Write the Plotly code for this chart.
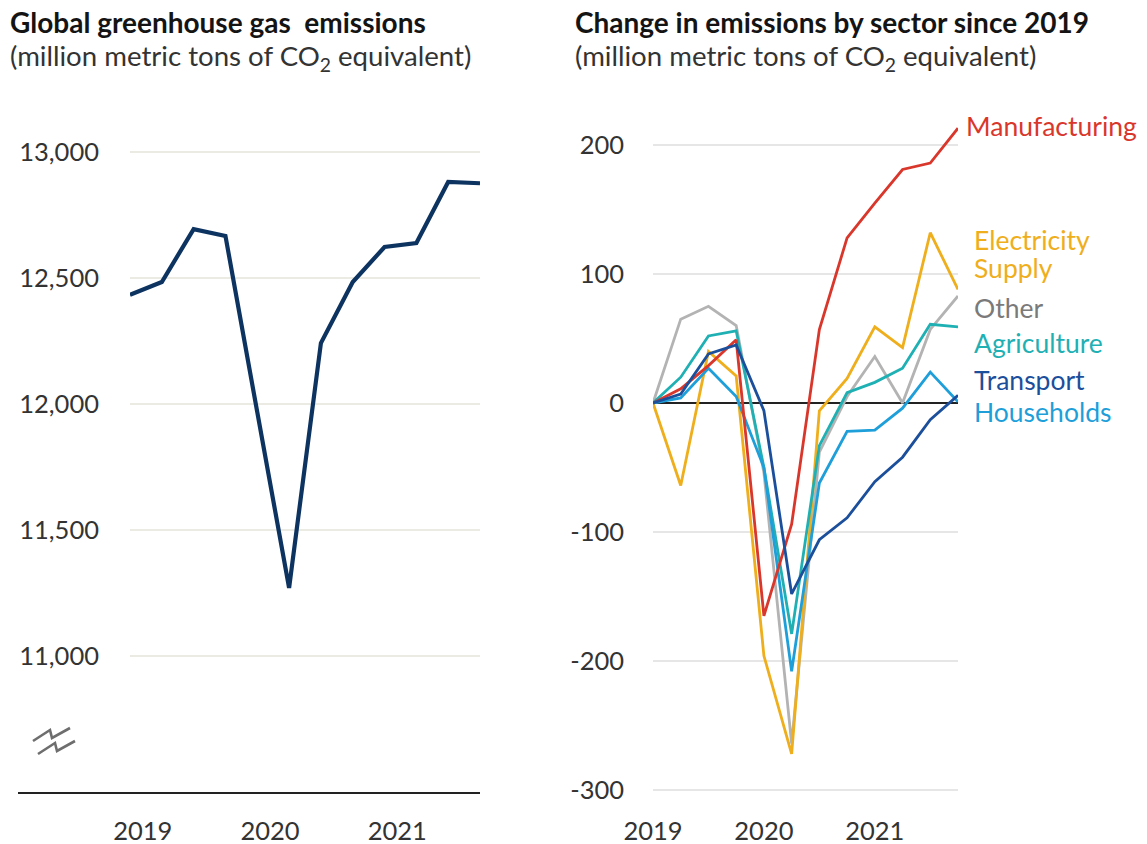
import plotly.graph_objects as go

W, H = 1147, 844

quarters = ["2019 Q1", "2019 Q2", "2019 Q3", "2019 Q4",
            "2020 Q1", "2020 Q2", "2020 Q3", "2020 Q4",
            "2021 Q1", "2021 Q2", "2021 Q3", "2021 Q4"]

global_emissions = [12433, 12484, 12694, 12667, 11968, 11270,
                    12242, 12484, 12623, 12639, 12881, 12876]

sector_names = ["Manufacturing", "Electricity Supply", "Other",
                "Agriculture", "Transport", "Households"]
manufacturing = [0, 11, 29, 49, -165, -94, 57, 128, 155, 181, 186, 213]
electricity = [0, -64, 40, 21, -196, -272, -6, 19, 59, 43, 132, 88]
other = [0, 65, 75, 60, -54, -264, -38, 5, 36, 0, 57, 83]
agriculture = [0, 20, 52, 56, -50, -179, -33, 8, 16, 27, 61, 59]
transport = [0, 7, 38, 45, -6, -148, -106, -89, -61, -42, -13, 6]
households = [0, 4, 27, 5, -50, -208, -62, -22, -21, -4, 24, 1]

left_ticks = [11000, 11500, 12000, 12500, 13000]
left_tick_text = ["11,000", "11,500", "12,000", "12,500", "13,000"]
right_ticks = [-300, -200, -100, 0, 100, 200]
year_labels = ["2019", "2020", "2021"]

colors = {
    "Manufacturing": "#D9372B",
    "Electricity Supply": "#EFAE1B",
    "Other": "#B3B3B3",
    "Agriculture": "#1FB0B4",
    "Transport": "#1C4F9B",
    "Households": "#1E9FDA",
}
label_colors = dict(colors)
label_colors["Other"] = "#7A7A7A"

FONT = "Lato"
TICK_SIZE = 25.5


def px_x(p):
    return p / W


def px_y(p):
    return 1 - p / H


xi = list(range(len(quarters)))

fig = go.Figure()

fig.add_trace(go.Scatter(
    x=xi, y=global_emissions, mode="lines",
    line=dict(color="#0D3361", width=4.2), xaxis="x", yaxis="y",
    hovertext=quarters, showlegend=False))

series = [manufacturing, electricity, other, agriculture, transport, households]
draw_order = [2, 1, 3, 5, 0, 4]
for k in draw_order:
    name = sector_names[k]
    fig.add_trace(go.Scatter(
        x=xi, y=series[k], mode="lines", name=name,
        line=dict(color=colors[name], width=2.8), xaxis="x2", yaxis="y2",
        hovertext=quarters, showlegend=False))

# left plot area: x 130..480, y 110..793 (pixels)
l_top, l_bot = 110, 793
l_scale = 126 / 500.0
l_min = 11000 - (l_bot - 656) / l_scale
l_max = 13000 + (152 - l_top) / l_scale

# right plot area: x 653..958, y 110..795
r_top, r_bot = 110, 795
r_scale = 129 / 100.0
r_min = -300 - (r_bot - 790) / r_scale
r_max = 200 + (145 - r_top) / r_scale

tickfont = dict(family=FONT, size=TICK_SIZE, color="#333333")

fig.update_layout(
    width=W, height=H,
    margin=dict(l=0, r=0, t=0, b=0, autoexpand=False),
    paper_bgcolor="white", plot_bgcolor="white",
    font=dict(family=FONT, size=24, color="#333333"),
    xaxis=dict(domain=[px_x(130), px_x(480)], range=[0, 11],
               tickvals=[0.4, 4.4, 8.4], ticktext=year_labels,
               showgrid=False, zeroline=False, showline=False,
               ticks="", ticklabelstandoff=20, automargin=False,
               tickfont=tickfont, fixedrange=True),
    yaxis=dict(domain=[px_y(l_bot), px_y(l_top)], range=[l_min, l_max],
               tickvals=left_ticks, ticktext=left_tick_text,
               showgrid=True, gridcolor="#ECEBE3", gridwidth=1.5,
               zeroline=False, showline=False, ticks="",
               ticklabelstandoff=30, automargin=False,
               tickfont=tickfont, fixedrange=True),
    xaxis2=dict(domain=[px_x(653), px_x(958)], range=[0, 11],
                tickvals=[0, 4, 8], ticktext=year_labels,
                showgrid=False, zeroline=False, showline=False,
                ticks="", ticklabelstandoff=18, anchor="y2",
                automargin=False, tickfont=tickfont, fixedrange=True),
    yaxis2=dict(domain=[px_y(r_bot), px_y(r_top)], range=[r_min, r_max],
                tickvals=right_ticks, ticktext=[str(t) for t in right_ticks],
                showgrid=True, gridcolor="#E6E6E6", gridwidth=1.5,
                zeroline=True, zerolinecolor="#222222", zerolinewidth=1.6,
                showline=False, ticks="", ticklabelstandoff=28,
                anchor="x2", automargin=False,
                tickfont=tickfont, fixedrange=True),
)

shapes = []
# baseline of left chart
shapes.append(dict(type="line", xref="paper", yref="paper",
                   x0=px_x(18), x1=px_x(480), y0=px_y(793), y1=px_y(793),
                   line=dict(color="#222222", width=2)))
# axis break symbol
for dx, dy in [(0, 0), (5, 13)]:
    pts = [(33 + dx, 741 + dy), (50 + dx, 730 + dy), (52 + dx, 738 + dy),
           (70 + dx, 728 + dy)]
    path = "M " + " L ".join(f"{px_x(a):.5f},{px_y(b):.5f}" for a, b in pts)
    shapes.append(dict(type="path", xref="paper", yref="paper", path=path,
                       line=dict(color="#6E6E6E", width=2.6)))
fig.update_layout(shapes=shapes)

annotations = []


def add_text(text, x, y, size, color, xanchor="left", bold=False):
    annotations.append(dict(
        text=f"<b>{text}</b>" if bold else text,
        x=px_x(x), y=px_y(y), xref="paper", yref="paper",
        xanchor=xanchor, yanchor="middle", showarrow=False,
        font=dict(family=FONT, size=size, color=color)))


add_text("Global greenhouse gas\u00a0 emissions", 8, 22, 28, "#141414", bold=True)
add_text("(million metric tons of CO<sub>2</sub> equivalent)", 8, 57, 27.6, "#333333")
add_text("Change in emissions by sector since 2019", 573, 22, 28, "#141414", bold=True)
add_text("(million metric tons of CO<sub>2</sub> equivalent)", 573, 57, 27.6, "#333333")

label_pos = [
    ("Manufacturing", 964, 126),
    ("Electricity", 972, 240),
    ("Supply", 972, 268),
    ("Other", 972, 308),
    ("Agriculture", 972, 343),
    ("Transport", 972, 380),
    ("Households", 972, 412),
]
label_series = {"Manufacturing": "Manufacturing", "Electricity": "Electricity Supply",
                "Supply": "Electricity Supply", "Other": "Other",
                "Agriculture": "Agriculture", "Transport": "Transport",
                "Households": "Households"}
for txt, x, y in label_pos:
    add_text(txt, x, y, 26.5, label_colors[label_series[txt]])

fig.update_layout(annotations=annotations)

fig.write_html(
    "out.html",
    config={"displayModeBar": False},
    post_script="document.body.style.margin='0';document.body.style.overflow='hidden';",
)
